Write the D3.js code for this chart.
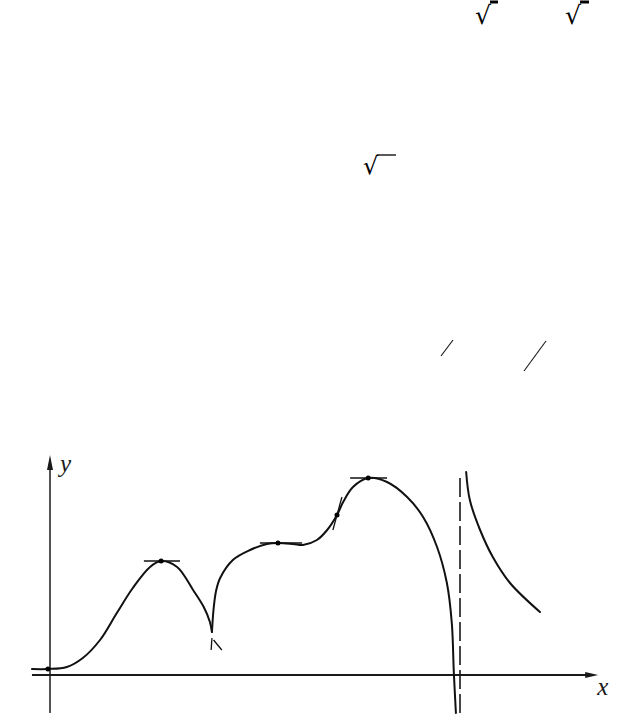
<!DOCTYPE html>
<html>
<head>
<meta charset="utf-8">
<script src="https://cdn.jsdelivr.net/npm/d3@7/dist/d3.min.js"></script>
<style>
html,body{margin:0;padding:0;background:#fff;}
svg{display:block;}
</style>
</head>
<body>
<svg id="chart" width="641" height="719"></svg>
<script>
// ---- data (abstract units: y-axis at x=0, asymptote at x=10) ----
const branchLeft = [
  [-0.44,0.30],[-0.05,0.30],[0.41,0.40],[0.80,0.85],[1.22,1.75],[1.63,3.10],
  [2.02,4.35],[2.44,5.40],[2.71,5.70],[3.10,5.40],[3.49,4.25],[3.75,3.40],[3.90,2.65],[3.95,2.15]
];
const branchMiddle = [
  [3.95,2.15],[3.99,3.30],[4.05,4.20],[4.15,4.85],[4.46,5.75],[4.88,6.25],[5.29,6.55],
  [5.56,6.60],[5.93,6.55],[6.17,6.50],[6.51,6.75],[6.76,7.25],[7.00,8.00],
  [7.15,8.65],[7.39,9.40],[7.76,9.85],[8.22,9.65],[8.71,8.90],[9.10,7.90],
  [9.44,6.40],[9.68,4.60],[9.80,2.60],[9.85,0.10],[9.90,-1.90]
];
const branchRight = [
  [10.15,10.15],[10.24,8.75],[10.49,7.25],[10.80,5.90],[11.22,4.60],[11.95,3.15]
];
const asymptoteX = 10;
const asymptoteY = [9.85,-1.90];
const keyPoints = [[-0.05,0.30],[2.71,5.70],[5.56,6.60],[7.00,8.00],[7.76,9.85]];
const tangents = [
  [[2.29,5.70],[3.17,5.70]],
  [[5.12,6.60],[6.15,6.60]],
  [[7.32,9.85],[8.22,9.85]],
  [[6.90,7.25],[7.12,8.90]]
];
const cuspMarks = [
  [[3.95,1.85],[3.93,1.25]],
  [[3.99,1.75],[4.19,1.25]]
];
const xAxisRange = [-0.44,13.37];
const yAxisRange = [-1.90,11.0];
const axisLabels = ["x","y"];

const svg = d3.select("#chart");
const x = d3.scaleLinear().domain([0,10]).range([50,460]);
const y = d3.scaleLinear().domain([0,10]).range([675,475]);

const line = d3.line().x(d=>x(d[0])).y(d=>y(d[1])).curve(d3.curveCatmullRom.alpha(0.5));
const straight = d3.line().x(d=>x(d[0])).y(d=>y(d[1]));

// axes
const g = svg.append("g");
g.append("line")
  .attr("x1",x(xAxisRange[0])).attr("x2",x(xAxisRange[1])-8)
  .attr("y1",y(0)).attr("y2",y(0))
  .attr("stroke","#1a1a1a").attr("stroke-width",2);
g.append("path")
  .attr("d",`M${x(xAxisRange[1])},${y(0)} L${x(xAxisRange[1])-13},${y(0)-3} L${x(xAxisRange[1])-13},${y(0)+3} Z`)
  .attr("fill","#1a1a1a");
g.append("line")
  .attr("x1",x(0)).attr("x2",x(0))
  .attr("y1",y(yAxisRange[0])).attr("y2",y(yAxisRange[1])+8)
  .attr("stroke","#1a1a1a").attr("stroke-width",1.5);
g.append("path")
  .attr("d",`M${x(0)},${y(yAxisRange[1])} L${x(0)-3},${y(yAxisRange[1])+15} L${x(0)+3},${y(yAxisRange[1])+15} Z`)
  .attr("fill","#1a1a1a");

g.append("text").text(axisLabels[0])
  .attr("x",x(xAxisRange[1])-1).attr("y",y(0)+20)
  .attr("font-family","Liberation Serif").attr("font-style","italic")
  .attr("font-size",25).attr("fill","#1a1a1a");
g.append("text").text(axisLabels[1])
  .attr("x",x(0)+10).attr("y",y(yAxisRange[1])+17)
  .attr("font-family","Liberation Serif").attr("font-style","italic")
  .attr("font-size",25).attr("fill","#1a1a1a");

// asymptote
g.append("line")
  .attr("x1",x(asymptoteX)).attr("x2",x(asymptoteX))
  .attr("y1",y(asymptoteY[0])).attr("y2",y(asymptoteY[1]))
  .attr("stroke","#1a1a1a").attr("stroke-width",1.6)
  .attr("stroke-dasharray","19,5");

// curve branches
[branchLeft,branchMiddle,branchRight].forEach(b=>{
  g.append("path").attr("d",line(b))
    .attr("fill","none").attr("stroke","#111").attr("stroke-width",2)
    .attr("stroke-linejoin","round").attr("stroke-linecap","round");
});

// tangents & cusp marks
tangents.concat(cuspMarks).forEach(t=>{
  g.append("path").attr("d",straight(t))
    .attr("fill","none").attr("stroke","#111").attr("stroke-width",1.3);
});

// key points
g.selectAll("circle.kp").data(keyPoints).join("circle")
  .attr("cx",d=>x(d[0])).attr("cy",d=>y(d[1])).attr("r",2.5).attr("fill","#000");

// formula fragments (leftover text at top)
const roots = [[475,24,25],[565,24,25],[363,174,24]];
roots.forEach(r=>{
  svg.append("text").text("√").attr("x",r[0]).attr("y",r[1])
    .attr("font-family","DejaVu Sans").attr("font-size",r[2]).attr("fill","#000");
});
const bars = [[490,2,498,3],[580,2,589,3],[377,155,396,1.3]];
bars.forEach(b=>{
  svg.append("line").attr("x1",b[0]).attr("x2",b[2]).attr("y1",b[1]).attr("y2",b[1])
    .attr("stroke","#000").attr("stroke-width",b[3]);
});
const slashes = [[441,356,453,340],[524,371,546,341]];
slashes.forEach(s=>{
  svg.append("line").attr("x1",s[0]).attr("y1",s[1]).attr("x2",s[2]).attr("y2",s[3])
    .attr("stroke","#222").attr("stroke-width",1.2);
});
</script>
</body>
</html>
